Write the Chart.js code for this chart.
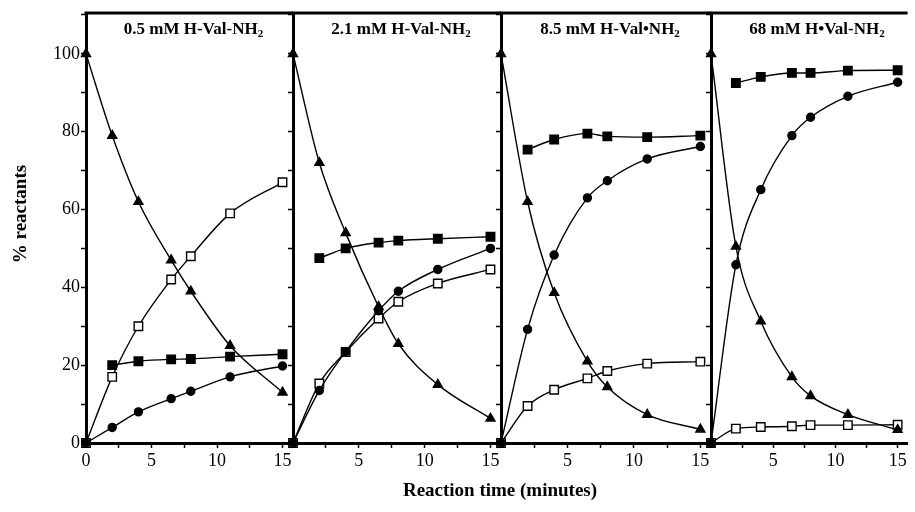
<!DOCTYPE html>
<html>
<head>
<meta charset="utf-8">
<script src="https://cdn.jsdelivr.net/npm/chart.js@4/dist/chart.umd.min.js"></script>
<style>
  body { margin: 0; background: #fff; }
  #wrap { position: relative; width: 915px; height: 512px; }
  #wrap canvas { position: absolute; left: 0; top: 0; }
  .ptitle {
    position: absolute; top: 19px; text-align: center;
    font: bold 17px "Liberation Serif", "Times New Roman", serif; color: #000;
    white-space: nowrap;
  }
  .ptitle sub { font-size: 11px; vertical-align: -3px; }
  #xtitle {
    position: absolute; left: 300px; width: 400px; top: 479px; text-align: center;
    font: bold 19px "Liberation Serif", "Times New Roman", serif; color: #000;
  }
  #ytitle {
    position: absolute; left: -80px; top: 203px; width: 200px; text-align: center;
    transform: rotate(-90deg);
    font: bold 19px "Liberation Serif", "Times New Roman", serif; color: #000;
  }
</style>
</head>
<body>
<div id="wrap">
  <canvas id="c0" width="915" height="512"></canvas>
  <canvas id="c1" width="915" height="512"></canvas>
  <canvas id="c2" width="915" height="512"></canvas>
  <canvas id="c3" width="915" height="512"></canvas>
  <div id="ytitle">% reactants</div>
  <div id="xtitle">Reaction time (minutes)</div>
</div>
<script>
// sampling times (minutes), shared by every panel
const times = [0, 2, 4, 6.5, 8, 11, 15];

const panelTitles = ["0.5 mM H-Val-NH", "2.1 mM H-Val-NH", "8.5 mM H-Val•NH", "68 mM H•Val-NH"];

// % reactants, one array per symbol per panel (null = not measured)
const triangles0 = [100, 79, 62, 47, 39, 25, 13];
const openSq0    = [0, 17, 30, 42, 48, 59, 67];
const filledSq0  = [null, 20, 21, 21.5, 21.6, 22.2, 22.8];
const circles0   = [0, 4, 8, 11.4, 13.3, 17, 19.8];

const triangles1 = [100, 72, 54, 35, 25.5, 15, 6.3];
const openSq1    = [0, 15.3, 23.4, 32, 36.3, 41, 44.6];
const filledSq1  = [null, 47.5, 50, 51.5, 52, 52.5, 53];
const circles1   = [0, 13.5, 23.5, 34, 39, 44.6, 50];

const triangles2 = [100, 62, 38.6, 21, 14.4, 7.3, 3.5];
const openSq2    = [0, 9.5, 13.7, 16.6, 18.5, 20.4, 20.9];
const filledSq2  = [null, 75.4, 78, 79.5, 78.8, 78.6, 79];
const circles2   = [0, 29.2, 48.3, 63, 67.4, 73, 76.2];

const triangles3 = [100, 50.5, 31.3, 17, 12.1, 7.3, 3.4];
const openSq3    = [0, 3.7, 4.1, 4.3, 4.6, 4.6, 4.7];
const filledSq3  = [null, 92.5, 94.1, 95.1, 95.1, 95.7, 95.8];
const circles3   = [0, 45.8, 65.1, 79, 83.7, 89.1, 92.7];

const panels = [
  { tri: triangles0, open: openSq0, filled: filledSq0, circ: circles0 },
  { tri: triangles1, open: openSq1, filled: filledSq1, circ: circles1 },
  { tri: triangles2, open: openSq2, filled: filledSq2, circ: circles2 },
  { tri: triangles3, open: openSq3, filled: filledSq3, circ: circles3 }
];

// panel plot-area edges in page pixels
const panelLeft  = [86, 293, 501, 711];
const panelRight = [293, 501, 711, 915];

Chart.defaults.font.family = '"Liberation Serif", "Times New Roman", serif';
Chart.defaults.color = '#000';

function toPoints(values) {
  return times.map((t, i) => ({ x: t, y: values[i] }));
}

function series(values, style, radius, fill) {
  return {
    data: toPoints(values),
    borderColor: '#000',
    borderWidth: 1.4,
    pointStyle: style,
    pointRadius: radius,
    pointBackgroundColor: fill,
    pointBorderColor: '#000',
    pointBorderWidth: 1.4,
    cubicInterpolationMode: 'monotone',
    spanGaps: false,
    clip: false
  };
}

const topBorder = {
  id: 'topBorder',
  afterDraw(chart) {
    const { ctx, chartArea } = chart;
    ctx.save();
    ctx.strokeStyle = '#000';
    ctx.lineWidth = 3;
    ctx.beginPath();
    ctx.moveTo(chartArea.left - 1.5, chartArea.top);
    ctx.lineTo(chartArea.right, chartArea.top);
    ctx.stroke();
    ctx.restore();
  }
};

panels.forEach((p, i) => {
  const yWidth = i === 0 ? 86 : 10;
  const el = document.createElement('div');
  el.className = 'ptitle';
  el.style.left = (panelLeft[i] + 4) + 'px';
  el.style.width = (panelRight[i] - panelLeft[i]) + 'px';
  el.innerHTML = panelTitles[i] + '<sub>2</sub>';
  document.getElementById('wrap').appendChild(el);

  new Chart(document.getElementById('c' + i), {
    type: 'line',
    data: {
      datasets: [
        series(p.circ, 'circle', 4, '#000'),
        series(p.filled, 'rect', 6, '#000'),
        series(p.tri, 'triangle', 5.2, '#000'),
        series(p.open, 'rect', 6, '#fff')
      ]
    },
    options: {
      responsive: false,
      animation: false,
      events: [],
      layout: {
        padding: { left: panelLeft[i] - yWidth, right: 915 - panelRight[i], top: 13, bottom: 0 }
      },
      plugins: { legend: { display: false }, tooltip: { enabled: false } },
      scales: {
        x: {
          type: 'linear',
          min: 0,
          max: 15.8,
          afterFit: s => { s.height = 69; },
          border: { color: '#000', width: 3 },
          grid: { drawOnChartArea: false, drawTicks: true, tickLength: 5, tickColor: '#000', tickWidth: 1.5 },
          ticks: {
            stepSize: 2.5,
            includeBounds: false,
            autoSkip: false,
            maxRotation: 0,
            padding: 2,
            font: { size: 18 },
            callback: v => (v % 5 === 0 && (i === 0 || v > 0)) ? v : ''
          }
        },
        y: {
          min: 0,
          max: 110.5,
          afterFit: s => { s.width = yWidth; },
          border: { color: '#000', width: 3 },
          grid: { drawOnChartArea: false, drawTicks: true, tickLength: 5, tickColor: '#000', tickWidth: 1.5 },
          ticks: {
            stepSize: 10,
            includeBounds: false,
            padding: 1,
            font: { size: 18 },
            callback: v => (i === 0 && v % 20 === 0) ? v : ''
          }
        }
      }
    },
    plugins: [topBorder]
  });
});
</script>
</body>
</html>
